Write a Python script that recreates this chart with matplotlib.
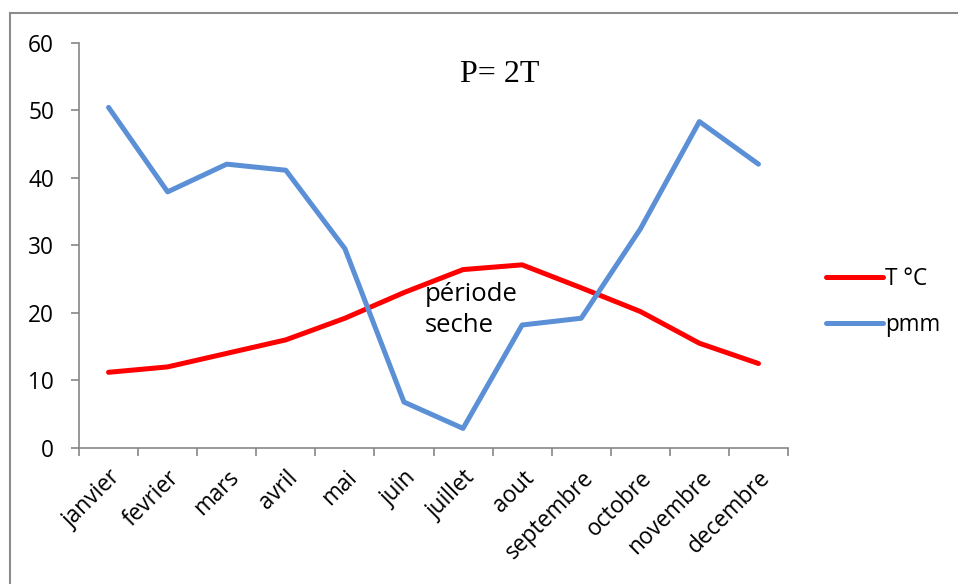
import matplotlib
matplotlib.use("Agg")
import matplotlib.pyplot as plt
from matplotlib.lines import Line2D

months = ["janvier", "fevrier", "mars", "avril", "mai", "juin", "juillet",
          "aout", "septembre", "octobre", "novembre", "decembre"]
temp_c = [11.2, 12.0, 14.0, 16.0, 19.2, 23.0, 26.4, 27.1, 23.7, 20.2, 15.5, 12.5]
precip_mm = [50.4, 37.9, 42.0, 41.1, 29.5, 6.8, 2.9, 18.2, 19.2, 32.4, 48.3, 42.0]
y_ticks = [0, 10, 20, 30, 40, 50, 60]

FONT = "Open Sans"
FS = 16.3
W, H = 958, 584
fig = plt.figure(figsize=(W / 100, H / 100), dpi=100)
ax = fig.add_axes([79 / W, 1 - 448 / H, (788 - 79) / W, (448 - 42.5) / H])

x = list(range(len(months)))
ax.plot(x, temp_c, color="#ff0000", lw=3.6, label="T °C", solid_capstyle="round", solid_joinstyle="round")
ax.plot(x, precip_mm, color="#5b8fd6", lw=3.6, label="pmm", solid_capstyle="round", solid_joinstyle="round")

ax.set_xlim(-0.5, len(months) - 0.5)
ax.set_ylim(0, 60)
ax.set_yticks(y_ticks)
ax.set_yticklabels([str(v) for v in y_ticks], fontfamily=FONT, fontsize=FS)
ax.set_xticks(x)
ax.set_xticklabels(months, rotation=45, ha="right", rotation_mode="anchor",
                   fontfamily=FONT, fontsize=FS)
ax.set_xticks([i - 0.5 for i in range(len(months) + 1)], minor=True)
ax.tick_params(axis="x", which="major", length=0, pad=13)
ax.tick_params(axis="x", which="minor", length=6, width=1.2, color="#868686")
ax.tick_params(axis="y", length=6, width=1.2, color="#868686", pad=12)

for s in ["top", "right"]:
    ax.spines[s].set_visible(False)
for s in ["left", "bottom"]:
    ax.spines[s].set_color("#868686")
    ax.spines[s].set_linewidth(1.2)

ax.text(500 / W, 1 - 75 / H, "P= 2T", transform=fig.transFigure, ha="center", va="center",
        fontfamily="Liberation Serif", fontsize=23)
ax.text(425 / W, 1 - 310 / H, "période\nseche", transform=fig.transFigure, ha="left", va="center",
        fontfamily=FONT, fontsize=18.5, linespacing=1.3)

leg = ax.legend(loc="center left", bbox_to_anchor=(826 / W, 1 - 302 / H),
                bbox_transform=fig.transFigure, frameon=False,
                prop={"family": FONT, "size": FS}, handlelength=2.5,
                handletextpad=0.12, labelspacing=0.95, borderpad=0, borderaxespad=0)

fig.add_artist(Line2D([10 / W, 10 / W], [0, 1 - 13 / H], transform=fig.transFigure,
                      color="#8c8c8c", lw=1.5))
fig.add_artist(Line2D([10 / W, 1], [1 - 13 / H, 1 - 13 / H], transform=fig.transFigure,
                      color="#8c8c8c", lw=1.5))

fig.savefig("out.png", dpi=100)
